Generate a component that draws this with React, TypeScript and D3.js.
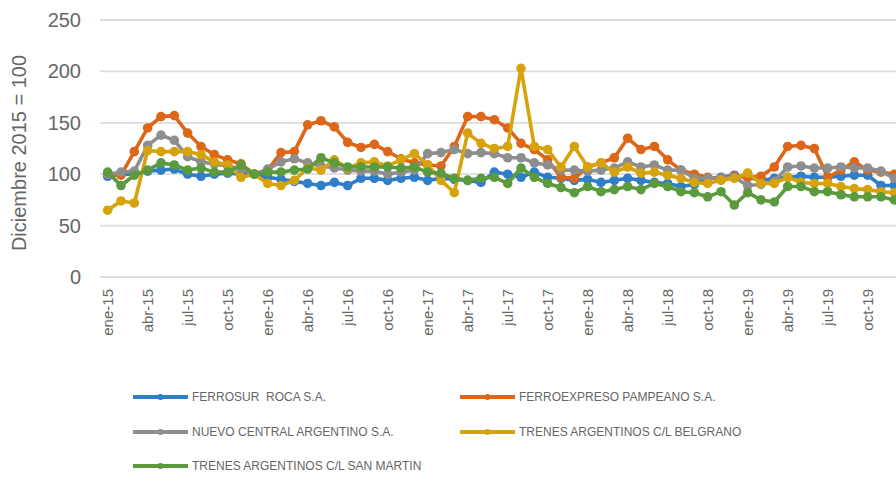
import * as d3 from 'd3'

const width = 896,
      height = 477

const monthNames = ['ene', 'feb', 'mar', 'abr', 'may', 'jun', 'jul', 'ago', 'sep', 'oct', 'nov', 'dic']
const years = ['15', '16', '17', '18', '19']
const months = years.flatMap(y => monthNames.map(m => `${m}-${y}`))

const yTicks = [0, 50, 100, 150, 200, 250]

// Diciembre 2015 = 100
const roca = [
  98, 100, 100, 103, 104, 105, 100, 98, 100, 101, 100, 100,
  97, 95, 93, 91, 89, 92, 89, 96, 96, 94, 96, 97,
  94, 96, 95, 94, 92, 102, 100, 97, 102, 97, 96, 94,
  95, 92, 94, 96, 94, 92, 91, 88, 90, 96, 97, 99,
  97, 94, 96, 97, 98, 97, 97, 98, 99, 99, 89, 89
]
const pampeano = [
  100, 99, 122, 145, 156, 157, 140, 127, 119, 114, 110, 100,
  104, 121, 122, 148, 152, 146, 131, 126, 129, 122, 115, 111,
  109, 108, 127, 156, 156, 153, 145, 130, 124, 114, 97, 96,
  107, 111, 116, 135, 124, 127, 114, 104, 100, 97, 96, 98,
  97, 98, 107, 127, 128, 125, 97, 104, 112, 104, 102, 100
]
const nca = [
  100, 102, 103, 128, 138, 133, 117, 112, 110, 108, 105, 100,
  105, 112, 115, 111, 108, 106, 104, 103, 103, 100, 102, 104,
  120, 121, 124, 120, 121, 120, 116, 116, 111, 109, 104, 104,
  103, 104, 106, 112, 107, 109, 104, 104, 96, 96, 96, 97,
  89, 90, 93, 107, 108, 106, 106, 107, 106, 106, 103, 96
]
const belgrano = [
  65, 74, 72, 123, 122, 122, 122, 119, 112, 109, 97, 100,
  91, 89, 94, 106, 104, 114, 106, 111, 112, 108, 114, 120,
  109, 94, 82, 140, 130, 125, 127, 203, 127, 124, 107, 127,
  107, 111, 102, 107, 101, 102, 99, 96, 92, 91, 94, 96,
  101, 91, 91, 97, 92, 91, 91, 88, 86, 85, 83, 82
]
const sanMartin = [
  102, 89, 99, 104, 111, 109, 104, 106, 102, 102, 109, 100,
  102, 102, 104, 105, 116, 111, 107, 107, 107, 107, 106, 107,
  102, 101, 96, 94, 96, 97, 91, 106, 97, 91, 87, 82,
  88, 83, 85, 88, 85, 91, 88, 83, 82, 78, 83, 70,
  82, 75, 73, 88, 88, 83, 83, 80, 78, 78, 78, 75
]

const seriesNames = [
  'FERROSUR  ROCA S.A.',
  'FERROEXPRESO PAMPEANO S.A.',
  'NUEVO CENTRAL ARGENTINO S.A.',
  'TRENES ARGENTINOS C/L BELGRANO',
  'TRENES ARGENTINOS C/L SAN MARTIN'
]
const seriesValues = [roca, pampeano, nca, belgrano, sanMartin]
const colors = ['#2F7EC9', '#DD6619', '#8E8E8E', '#D6A30C', '#5B9A3D']

export default function App() {
  const x = d3.scaleBand<string>().domain(months).range([101, 901])
  const cx = (m: string) => (x(m) as number) + x.bandwidth() / 2
  const y = d3.scaleLinear().domain([0, 250]).range([277, 20])

  const lineGen = d3.line<number>()
    .x((d, i) => cx(months[i]))
    .y(d => y(d))

  const legendPos = [
    [133, 397], [460, 397],
    [133, 432], [460, 432],
    [133, 466]
  ]

  return (
    <svg width={width} height={height}
      style={{ position: 'absolute', left: 0, top: 0, background: '#fff', fontFamily: 'Liberation Sans, Arial, sans-serif' }}>
      {yTicks.map(t => (
        <g key={t}>
          <line x1={100} x2={width} y1={y(t)} y2={y(t)} stroke='#DDDDDD' strokeWidth={1.8} />
          <text x={81} y={y(t)} dy='0.35em' textAnchor='end' fontSize={20} fill='#666'>{t}</text>
        </g>
      ))}

      <text transform={`translate(26, 153) rotate(-90)`} textAnchor='middle' fontSize={20} fill='#666'>
        Diciembre 2015 = 100
      </text>

      {months.filter((m, i) => i % 3 === 0).map(m => (
        <text key={m} transform={`translate(${cx(m)}, 289) rotate(-90)`} dy='0.35em'
          textAnchor='end' fontSize={15} fill='#666'>{m}</text>
      ))}

      {seriesValues.map((vals, s) => (
        <g key={s}>
          <path d={lineGen(vals) as string} fill='none' stroke={colors[s]} strokeWidth={3.6} strokeLinejoin='round' />
          {vals.map((v, i) => (
            <circle key={i} cx={cx(months[i])} cy={y(v)} r={4.8} fill={colors[s]} />
          ))}
        </g>
      ))}

      {seriesNames.map((name, s) => {
        const [lx, ly] = legendPos[s]
        return (
          <g key={name}>
            <line x1={lx} x2={lx + 55} y1={ly} y2={ly} stroke={colors[s]} strokeWidth={3.8} />
            <circle cx={lx + 27.5} cy={ly} r={3} fill={colors[s]} />
            <text x={lx + 59} y={ly} dy='0.35em' fontSize={12} fill='#666' style={{ whiteSpace: 'pre' }}>{name}</text>
          </g>
        )
      })}
    </svg>
  )
}
